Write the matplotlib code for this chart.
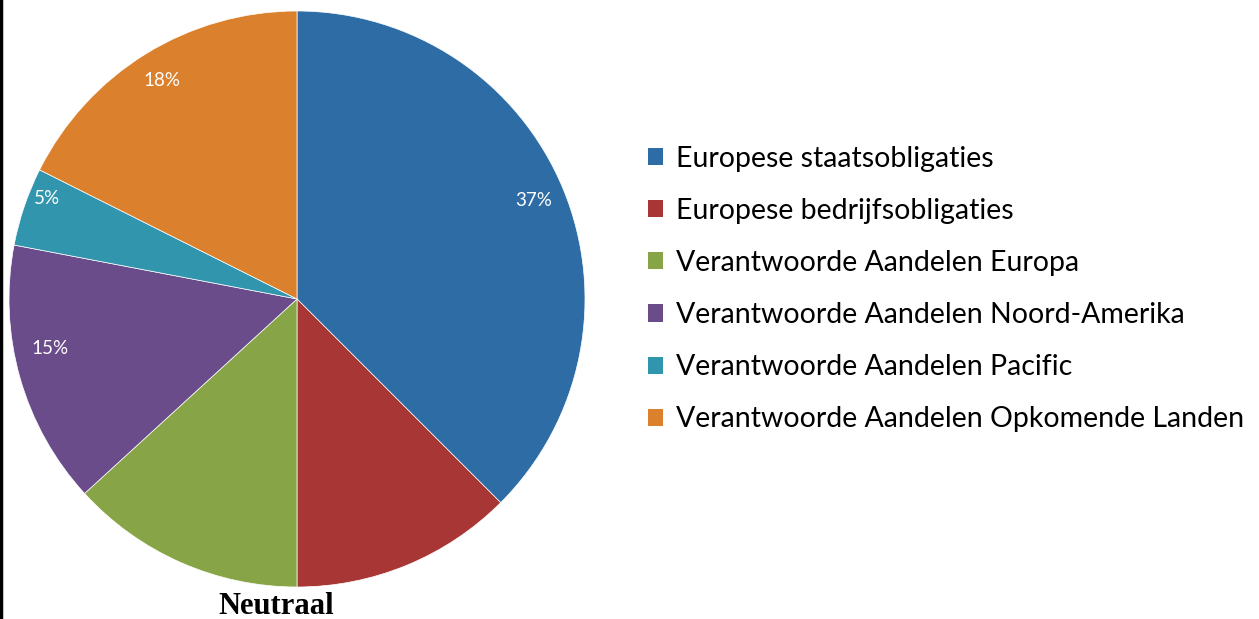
import matplotlib.pyplot as plt
from matplotlib.lines import Line2D
from matplotlib.patches import Patch

categories = [
    "Europese staatsobligaties",
    "Europese bedrijfsobligaties",
    "Verantwoorde Aandelen Europa",
    "Verantwoorde Aandelen Noord-Amerika",
    "Verantwoorde Aandelen Pacific",
    "Verantwoorde Aandelen Opkomende Landen",
]
shares = [37.5, 12.5, 13.2, 14.8, 4.4, 17.6]
shown_labels = ["37%", "", "", "15%", "5%", "18%"]
colors = ["#2E6CA5", "#A83634", "#87A446", "#6A4C8A", "#3295AE", "#DB812E"]
title = "Neutraal"

fig = plt.figure(figsize=(12.59, 6.19), dpi=100)

ax = fig.add_axes([9 / 1259, 32 / 619, 576 / 1259, 576 / 619])
wedges, texts = ax.pie(shares, colors=colors, startangle=90, counterclock=False,
                       labels=shown_labels, labeldistance=0.89,
                       wedgeprops=dict(linewidth=0.5, edgecolor="white"),
                       textprops=dict(color="white", fontsize=13.5, family="Lato"))
# excel "best fit" nudges the small left-hand labels upward a bit
nudge = {3: (0.0, 0.07), 4: (-0.025, 0.065)}
for i, t in enumerate(texts):
    t.set_ha("center")
    t.set_va("center")
    if i in nudge:
        x, y = t.get_position()
        t.set_position((x + nudge[i][0], y + nudge[i][1]))
ax.set_xlim(-1, 1)
ax.set_ylim(-1, 1)
ax.set_aspect("equal")

handles = [Patch(facecolor=c, edgecolor="none") for c in colors]
fig.legend(handles, categories, loc="center left", bbox_to_anchor=(622 / 1259, 1 - 289 / 619),
           frameon=False, prop=dict(family="Lato", size=20.5), handlelength=0.55,
           handleheight=0.55, handletextpad=0.45, labelspacing=0.92)

fig.text(276 / 1259, 1 - 606 / 619, title, ha="center", va="center",
         family="Liberation Serif", fontweight="bold", fontsize=22)

fig.add_artist(Line2D([0.001, 0.001], [0, 1], color="black", linewidth=2.5,
                      transform=fig.transFigure))

fig.savefig("out.png", dpi=100)
